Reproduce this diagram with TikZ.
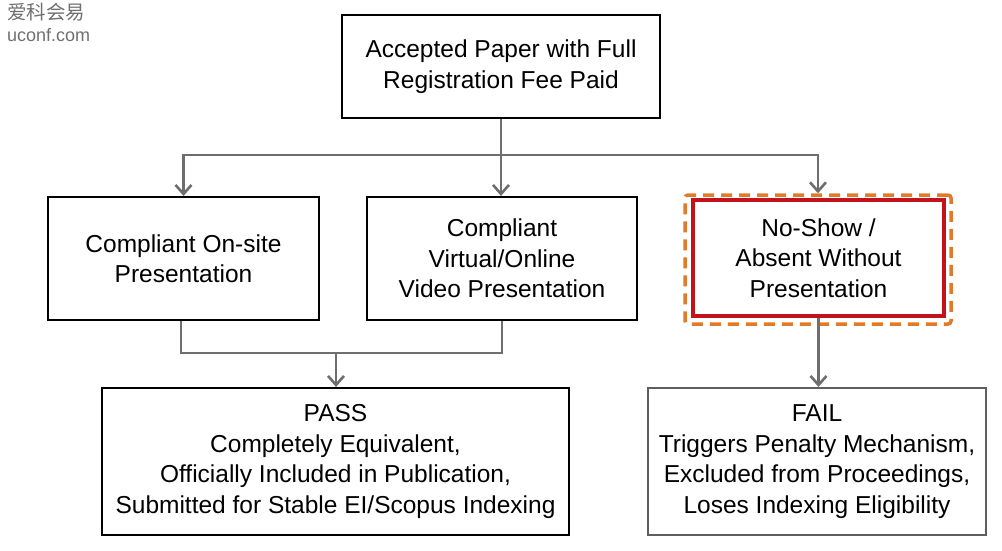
\documentclass[tikz,border=0pt]{standalone}
\usepackage{fontspec}
\setmainfont{Liberation Sans}
\newfontfamily\cjk{Noto Sans CJK SC}
\usetikzlibrary{arrows.meta}
\definecolor{conngray}{HTML}{6E6E6E}
\definecolor{failgray}{HTML}{5E5E5E}
\definecolor{redbd}{HTML}{C4121A}
\definecolor{orangebd}{HTML}{E07B2C}
\definecolor{wmgray}{HTML}{707070}
\tikzset{
  box/.style={draw=black, line width=2.2pt, fill=white, align=center, inner sep=0pt, font=\fontsize{24.5}{30.5}\selectfont, text=black},
  conn/.style={draw=conngray, line width=2.6pt},
  arr/.style={conn, -{Straight Barb[length=9pt,width=16pt,line width=2.6pt]}},
}
\begin{document}
\begin{tikzpicture}[x=1pt,y=-1pt]
\useasboundingbox (0,0) rectangle (1002,550);
\fill[white] (0,0) rectangle (1002,550);
% watermark
\node[anchor=north west, inner sep=0pt, text=wmgray, font=\cjk\fontsize{19.5}{22}\selectfont] (wm1) at (7,3) {爱科会易};
\node[anchor=north west, inner sep=0pt, text=wmgray, font=\fontsize{18}{20}\selectfont] (wm2) at (7,28) {uconf.com};
% nodes
\node[box, minimum width=318pt, minimum height=103pt] (top) at (501,66.5) {Accepted Paper with Full\\Registration Fee Paid};
\node[box, minimum width=271pt, minimum height=123pt] (left) at (183.5,258.5) {Compliant On-site\\Presentation};
\node[box, minimum width=270pt, minimum height=123pt] (mid) at (502,258.5) {Compliant\\Virtual/Online\\Video Presentation};
\node[draw=orangebd, line width=3.5pt, dash pattern=on 11pt off 7pt, rounded corners=3pt, minimum width=266pt, minimum height=129pt, inner sep=0pt] (noshowout) at (818,259.5) {};
\node[box, draw=redbd, line width=4pt, minimum width=251pt, minimum height=116pt] (noshow) at (818.5,258) {No-Show /\\Absent Without\\Presentation};
\node[box, minimum width=467pt, minimum height=147pt] (pass) at (335.5,461.5) {PASS\\Completely Equivalent,\\Officially Included in Publication,\\Submitted for Stable EI/Scopus Indexing};
\node[box, draw=failgray, minimum width=338pt, minimum height=147pt] (fail) at (817,461.5) {FAIL\\Triggers Penalty Mechanism,\\Excluded from Proceedings,\\Loses Indexing Eligibility};
% connectors
\coordinate (j1) at (501,155);
\coordinate (j2) at (336,353);
\draw[conn] (top.south) -- (j1);
\draw[arr] (j1) -| (left.north);
\draw[arr] (j1) -- (mid.north -| j1);
\draw[arr] (j1) -| (noshowout.north);
\draw[conn] (left.south -| 181,0) |- (j2 -| mid.south) -- (mid.south);
\draw[arr] (j2) -- (pass.north -| j2);
\draw[arr] (noshow.south) -- (fail.north -| noshow.south);
\end{tikzpicture}
\end{document}
